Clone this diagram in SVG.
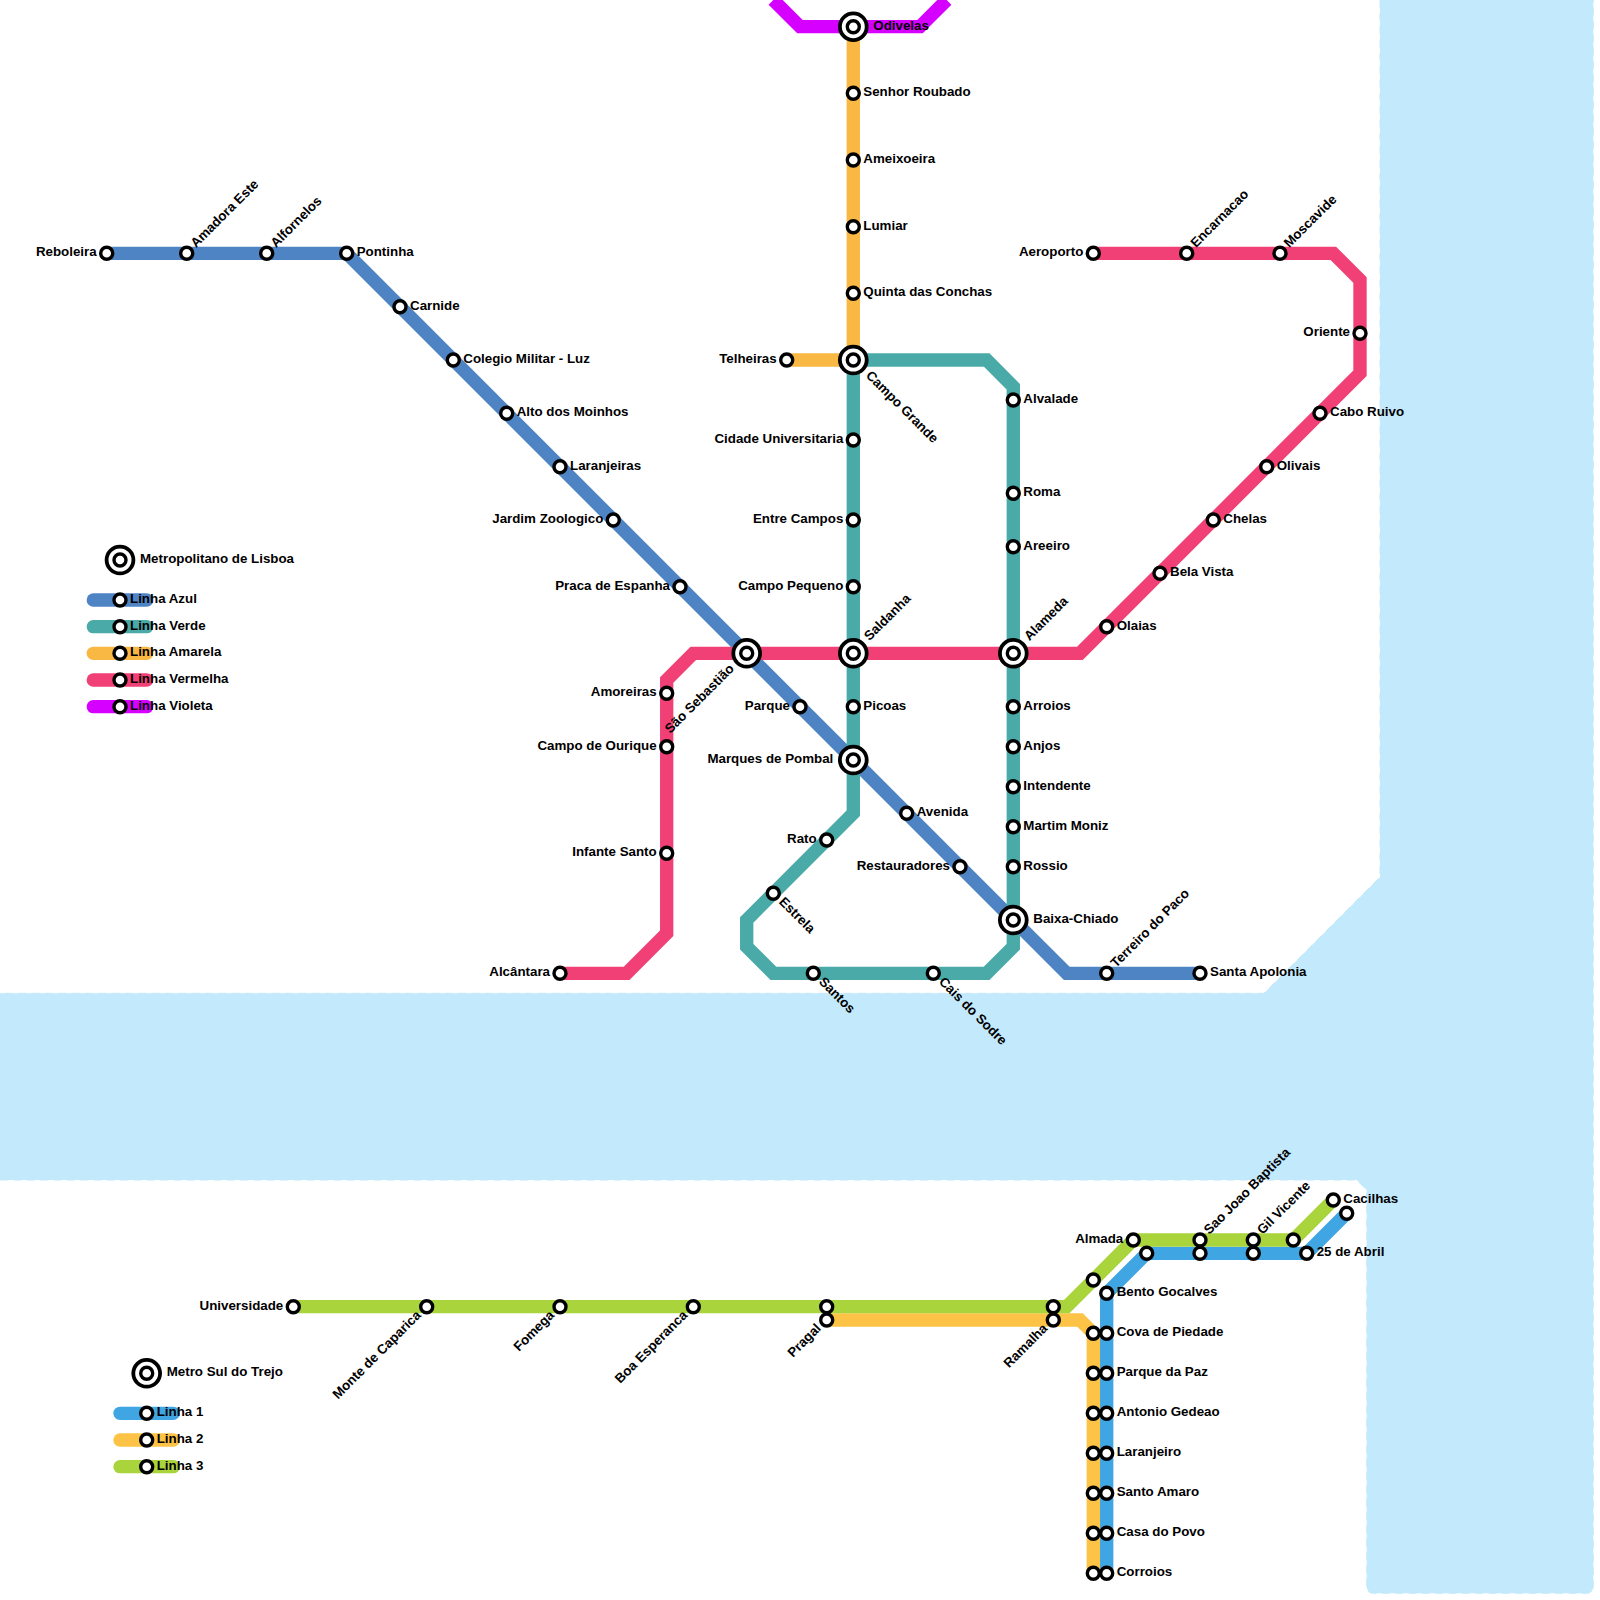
<svg xmlns="http://www.w3.org/2000/svg" width="1600" height="1600" viewBox="0 0 1600 1600">
<style>
text{font-family:"Liberation Sans",Arial,Helvetica,sans-serif;font-weight:700;font-size:13.33px;fill:#000}
.e{text-anchor:end}
.l{fill:none;stroke-width:13.33;stroke-linejoin:miter;stroke-linecap:butt}
.k{stroke-linecap:round}
.s{fill:#fff;stroke:#000;stroke-width:3.4}
.b{fill:#fff;stroke:#000;stroke-width:3.8}
.az{stroke:#4f84c4}.ve{stroke:#49aaa8}.am{stroke:#f8b843}.vm{stroke:#f04075}.vi{stroke:#d500ff}
.s1{stroke:#3fa5e3}.s2{stroke:#fcc346}.s3{stroke:#a9d43c}
#water{fill:#c3e9fc;stroke:#c3e9fc;stroke-width:1;stroke-dasharray:7 6.33;stroke-linecap:round}
</style>
<rect width="1600" height="1600" fill="#fff"/>
<path id="water" d="M1380 0V877L1264 993.3H0V1180H1356.7L1366.7 1190V1586.3Q1366.7 1593.3 1373.7 1593.3H1586.3Q1593.3 1593.3 1593.3 1586.3V0Z"/>
<g id="connectors">
<path class="l az" d="M106.7 253.3H346.7L1066.7 973.3H1200"/>
<path class="l ve" d="M853.3 360H986.7L1013.3 386.7V946.7L986.7 973.3H773.3L746.7 946.7V920L853.3 813.3V360"/>
<path class="l am" d="M853.3 26.7V360H786.7"/>
<path class="l vm" d="M560 973.3H626.7L666.7 933.3V680L693.3 653.3H1080L1360 373.3V280L1333.3 253.3H1093.3"/>
<path class="l vi" d="M773.3 0L800 26.7H920L946.7 0"/>
<path class="l s1" d="M1106.7 1573.3V1293.3L1146.7 1253.3H1306.7L1346.7 1213.3"/>
<path class="l s2" d="M826.7 1320H1080L1093.3 1333.3V1573.3"/>
<path class="l s3" d="M293.3 1306.7H1066.7L1133.3 1240H1293.3L1333.3 1200"/>
</g>
<g id="legend-lisboa">
<circle class="b" cx="120" cy="560" r="13.4"/><circle class="s" cx="120" cy="560" r="6"/>
<text x="140" y="563">Metropolitano de Lisboa</text>
<path class="l k az" d="M93.3 600H146.7"/><circle class="s" cx="120" cy="600" r="6"/><text x="130" y="603">Linha Azul</text>
<path class="l k ve" d="M93.3 626.7H146.7"/><circle class="s" cx="120" cy="626.7" r="6"/><text x="130" y="629.7">Linha Verde</text>
<path class="l k am" d="M93.3 653.3H146.7"/><circle class="s" cx="120" cy="653.3" r="6"/><text x="130" y="656.3">Linha Amarela</text>
<path class="l k vm" d="M93.3 680H146.7"/><circle class="s" cx="120" cy="680" r="6"/><text x="130" y="683">Linha Vermelha</text>
<path class="l k vi" d="M93.3 706.7H146.7"/><circle class="s" cx="120" cy="706.7" r="6"/><text x="130" y="709.7">Linha Violeta</text>
</g>
<g id="legend-sul">
<circle class="b" cx="146.7" cy="1373.3" r="13.4"/><circle class="s" cx="146.7" cy="1373.3" r="6"/>
<text x="166.7" y="1376.3">Metro Sul do Trejo</text>
<path class="l k s1" d="M120 1413.3H173.3"/><circle class="s" cx="146.7" cy="1413.3" r="6"/><text x="156.7" y="1416.3">Linha 1</text>
<path class="l k s2" d="M120 1440H173.3"/><circle class="s" cx="146.7" cy="1440" r="6"/><text x="156.7" y="1443">Linha 2</text>
<path class="l k s3" d="M120 1466.7H173.3"/><circle class="s" cx="146.7" cy="1466.7" r="6"/><text x="156.7" y="1469.7">Linha 3</text>
</g>
<g id="reboleira"><circle class="s" cx="106.7" cy="253.3" r="6"/><text class="e" x="96.7" y="256.3">Reboleira</text></g>
<g id="amadora-este"><circle class="s" cx="186.7" cy="253.3" r="6"/><text x="196.7" y="256.3" transform="rotate(-45 186.7 253.3)">Amadora Este</text></g>
<g id="alfornelos"><circle class="s" cx="266.7" cy="253.3" r="6"/><text x="276.7" y="256.3" transform="rotate(-45 266.7 253.3)">Alfornelos</text></g>
<g id="pontinha"><circle class="s" cx="346.7" cy="253.3" r="6"/><text x="356.7" y="256.3">Pontinha</text></g>
<g id="carnide"><circle class="s" cx="400" cy="306.7" r="6"/><text x="410" y="309.7">Carnide</text></g>
<g id="colegio-militar"><circle class="s" cx="453.3" cy="360" r="6"/><text x="463.3" y="363">Colegio Militar - Luz</text></g>
<g id="alto-dos-moinhos"><circle class="s" cx="506.7" cy="413.3" r="6"/><text x="516.7" y="416.3">Alto dos Moinhos</text></g>
<g id="laranjeiras"><circle class="s" cx="560" cy="466.7" r="6"/><text x="570" y="469.7">Laranjeiras</text></g>
<g id="jardim-zoologico"><circle class="s" cx="613.3" cy="520" r="6"/><text class="e" x="603.3" y="523">Jardim Zoologico</text></g>
<g id="praca-de-espanha"><circle class="s" cx="680" cy="586.7" r="6"/><text class="e" x="670" y="589.7">Praca de Espanha</text></g>
<g id="sao-sebastiao"><circle class="b" cx="746.7" cy="653.3" r="13.4"/><circle class="s" cx="746.7" cy="653.3" r="6"/><text class="e" x="726.7" y="656.3" transform="rotate(-45 746.7 653.3)">São Sebastião</text></g>
<g id="parque"><circle class="s" cx="800" cy="706.7" r="6"/><text class="e" x="790" y="709.7">Parque</text></g>
<g id="marques-de-pombal"><circle class="b" cx="853.3" cy="760" r="13.4"/><circle class="s" cx="853.3" cy="760" r="6"/><text class="e" x="833.3" y="763">Marques de Pombal</text></g>
<g id="avenida"><circle class="s" cx="906.7" cy="813.3" r="6"/><text x="916.7" y="816.3">Avenida</text></g>
<g id="restauradores"><circle class="s" cx="960" cy="866.7" r="6"/><text class="e" x="950" y="869.7">Restauradores</text></g>
<g id="baixa-chiado"><circle class="b" cx="1013.3" cy="920" r="13.4"/><circle class="s" cx="1013.3" cy="920" r="6"/><text x="1033.3" y="923">Baixa-Chiado</text></g>
<g id="terreiro-do-paco"><circle class="s" cx="1106.7" cy="973.3" r="6"/><text x="1116.7" y="976.3" transform="rotate(-45 1106.7 973.3)">Terreiro do Paco</text></g>
<g id="santa-apolonia"><circle class="s" cx="1200" cy="973.3" r="6"/><text x="1210" y="976.3">Santa Apolonia</text></g>
<g id="odivelas"><circle class="b" cx="853.3" cy="26.7" r="13.4"/><circle class="s" cx="853.3" cy="26.7" r="6"/><text x="873.3" y="29.7">Odivelas</text></g>
<g id="senhor-roubado"><circle class="s" cx="853.3" cy="93.3" r="6"/><text x="863.3" y="96.3">Senhor Roubado</text></g>
<g id="ameixoeira"><circle class="s" cx="853.3" cy="160" r="6"/><text x="863.3" y="163">Ameixoeira</text></g>
<g id="lumiar"><circle class="s" cx="853.3" cy="226.7" r="6"/><text x="863.3" y="229.7">Lumiar</text></g>
<g id="quinta-das-conchas"><circle class="s" cx="853.3" cy="293.3" r="6"/><text x="863.3" y="296.3">Quinta das Conchas</text></g>
<g id="telheiras"><circle class="s" cx="786.7" cy="360" r="6"/><text class="e" x="776.7" y="363">Telheiras</text></g>
<g id="campo-grande"><circle class="b" cx="853.3" cy="360" r="13.4"/><circle class="s" cx="853.3" cy="360" r="6"/><text x="873.3" y="363" transform="rotate(45 853.3 360)">Campo Grande</text></g>
<g id="cidade-universitaria"><circle class="s" cx="853.3" cy="440" r="6"/><text class="e" x="843.3" y="443">Cidade Universitaria</text></g>
<g id="entre-campos"><circle class="s" cx="853.3" cy="520" r="6"/><text class="e" x="843.3" y="523">Entre Campos</text></g>
<g id="campo-pequeno"><circle class="s" cx="853.3" cy="586.7" r="6"/><text class="e" x="843.3" y="589.7">Campo Pequeno</text></g>
<g id="saldanha"><circle class="b" cx="853.3" cy="653.3" r="13.4"/><circle class="s" cx="853.3" cy="653.3" r="6"/><text x="873.3" y="656.3" transform="rotate(-45 853.3 653.3)">Saldanha</text></g>
<g id="picoas"><circle class="s" cx="853.3" cy="706.7" r="6"/><text x="863.3" y="709.7">Picoas</text></g>
<g id="rato"><circle class="s" cx="826.7" cy="840" r="6"/><text class="e" x="816.7" y="843">Rato</text></g>
<g id="estrela"><circle class="s" cx="773.3" cy="893.3" r="6"/><text x="783.3" y="896.3" transform="rotate(45 773.3 893.3)">Estrela</text></g>
<g id="santos"><circle class="s" cx="813.3" cy="973.3" r="6"/><text x="823.3" y="976.3" transform="rotate(45 813.3 973.3)">Santos</text></g>
<g id="cais-do-sodre"><circle class="s" cx="933.3" cy="973.3" r="6"/><text x="943.3" y="976.3" transform="rotate(45 933.3 973.3)">Cais do Sodre</text></g>
<g id="alvalade"><circle class="s" cx="1013.3" cy="400" r="6"/><text x="1023.3" y="403">Alvalade</text></g>
<g id="roma"><circle class="s" cx="1013.3" cy="493.3" r="6"/><text x="1023.3" y="496.3">Roma</text></g>
<g id="areeiro"><circle class="s" cx="1013.3" cy="546.7" r="6"/><text x="1023.3" y="549.7">Areeiro</text></g>
<g id="alameda"><circle class="b" cx="1013.3" cy="653.3" r="13.4"/><circle class="s" cx="1013.3" cy="653.3" r="6"/><text x="1033.3" y="656.3" transform="rotate(-45 1013.3 653.3)">Alameda</text></g>
<g id="arroios"><circle class="s" cx="1013.3" cy="706.7" r="6"/><text x="1023.3" y="709.7">Arroios</text></g>
<g id="anjos"><circle class="s" cx="1013.3" cy="746.7" r="6"/><text x="1023.3" y="749.7">Anjos</text></g>
<g id="intendente"><circle class="s" cx="1013.3" cy="786.7" r="6"/><text x="1023.3" y="789.7">Intendente</text></g>
<g id="martim-moniz"><circle class="s" cx="1013.3" cy="826.7" r="6"/><text x="1023.3" y="829.7">Martim Moniz</text></g>
<g id="rossio"><circle class="s" cx="1013.3" cy="866.7" r="6"/><text x="1023.3" y="869.7">Rossio</text></g>
<g id="alcantara"><circle class="s" cx="560" cy="973.3" r="6"/><text class="e" x="550" y="976.3">Alcântara</text></g>
<g id="infante-santo"><circle class="s" cx="666.7" cy="853.3" r="6"/><text class="e" x="656.7" y="856.3">Infante Santo</text></g>
<g id="campo-de-ourique"><circle class="s" cx="666.7" cy="746.7" r="6"/><text class="e" x="656.7" y="749.7">Campo de Ourique</text></g>
<g id="amoreiras"><circle class="s" cx="666.7" cy="693.3" r="6"/><text class="e" x="656.7" y="696.3">Amoreiras</text></g>
<g id="olaias"><circle class="s" cx="1106.7" cy="626.7" r="6"/><text x="1116.7" y="629.7">Olaias</text></g>
<g id="bela-vista"><circle class="s" cx="1160" cy="573.3" r="6"/><text x="1170" y="576.3">Bela Vista</text></g>
<g id="chelas"><circle class="s" cx="1213.3" cy="520" r="6"/><text x="1223.3" y="523">Chelas</text></g>
<g id="olivais"><circle class="s" cx="1266.7" cy="466.7" r="6"/><text x="1276.7" y="469.7">Olivais</text></g>
<g id="cabo-ruivo"><circle class="s" cx="1320" cy="413.3" r="6"/><text x="1330" y="416.3">Cabo Ruivo</text></g>
<g id="oriente"><circle class="s" cx="1360" cy="333.3" r="6"/><text class="e" x="1350" y="336.3">Oriente</text></g>
<g id="moscavide"><circle class="s" cx="1280" cy="253.3" r="6"/><text x="1290" y="256.3" transform="rotate(-45 1280 253.3)">Moscavide</text></g>
<g id="encarnacao"><circle class="s" cx="1186.7" cy="253.3" r="6"/><text x="1196.7" y="256.3" transform="rotate(-45 1186.7 253.3)">Encarnacao</text></g>
<g id="aeroporto"><circle class="s" cx="1093.3" cy="253.3" r="6"/><text class="e" x="1083.3" y="256.3">Aeroporto</text></g>
<g id="universidade"><circle class="s" cx="293.3" cy="1306.7" r="6"/><text class="e" x="283.3" y="1309.7">Universidade</text></g>
<g id="monte-de-caparica"><circle class="s" cx="426.7" cy="1306.7" r="6"/><text class="e" x="416.7" y="1309.7" transform="rotate(-45 426.7 1306.7)">Monte de Caparica</text></g>
<g id="fomega"><circle class="s" cx="560" cy="1306.7" r="6"/><text class="e" x="550" y="1309.7" transform="rotate(-45 560 1306.7)">Fomega</text></g>
<g id="boa-esperanca"><circle class="s" cx="693.3" cy="1306.7" r="6"/><text class="e" x="683.3" y="1309.7" transform="rotate(-45 693.3 1306.7)">Boa Esperanca</text></g>
<g id="pragal-3"><circle class="s" cx="826.7" cy="1306.7" r="6"/></g>
<g id="pragal-2"><circle class="s" cx="826.7" cy="1320" r="6"/><text class="e" x="816.7" y="1323" transform="rotate(-45 826.7 1320)">Pragal</text></g>
<g id="ramalha-3"><circle class="s" cx="1053.3" cy="1306.7" r="6"/></g>
<g id="ramalha-2"><circle class="s" cx="1053.3" cy="1320" r="6"/><text class="e" x="1043.3" y="1323" transform="rotate(-45 1053.3 1320)">Ramalha</text></g>
<g id="s3-a"><circle class="s" cx="1093.3" cy="1280" r="6"/></g>
<g id="almada"><circle class="s" cx="1133.3" cy="1240" r="6"/><text class="e" x="1123.3" y="1243">Almada</text></g>
<g id="s1-a"><circle class="s" cx="1146.7" cy="1253.3" r="6"/></g>
<g id="sao-joao-baptista"><circle class="s" cx="1200" cy="1240" r="6"/><circle class="s" cx="1200" cy="1253.3" r="6"/><text x="1210" y="1243" transform="rotate(-45 1200 1240)">Sao Joao Baptista</text></g>
<g id="gil-vicente"><circle class="s" cx="1253.3" cy="1240" r="6"/><circle class="s" cx="1253.3" cy="1253.3" r="6"/><text x="1263.3" y="1243" transform="rotate(-45 1253.3 1240)">Gil Vicente</text></g>
<g id="s3-b"><circle class="s" cx="1293.3" cy="1240" r="6"/></g>
<g id="vinte-cinco-de-abril"><circle class="s" cx="1306.7" cy="1253.3" r="6"/><text x="1316.7" y="1256.3">25 de Abril</text></g>
<g id="cacilhas"><circle class="s" cx="1333.3" cy="1200" r="6"/><text x="1343.3" y="1203">Cacilhas</text></g>
<g id="s1-b"><circle class="s" cx="1346.7" cy="1213.3" r="6"/></g>
<g id="bento-gocalves"><circle class="s" cx="1106.7" cy="1293.3" r="6"/><text x="1116.7" y="1296.3">Bento Gocalves</text></g>
<g id="cova-de-piedade"><circle class="s" cx="1093.3" cy="1333.3" r="6"/><circle class="s" cx="1106.7" cy="1333.3" r="6"/><text x="1116.7" y="1336.3">Cova de Piedade</text></g>
<g id="parque-da-paz"><circle class="s" cx="1093.3" cy="1373.3" r="6"/><circle class="s" cx="1106.7" cy="1373.3" r="6"/><text x="1116.7" y="1376.3">Parque da Paz</text></g>
<g id="antonio-gedeao"><circle class="s" cx="1093.3" cy="1413.3" r="6"/><circle class="s" cx="1106.7" cy="1413.3" r="6"/><text x="1116.7" y="1416.3">Antonio Gedeao</text></g>
<g id="laranjeiro"><circle class="s" cx="1093.3" cy="1453.3" r="6"/><circle class="s" cx="1106.7" cy="1453.3" r="6"/><text x="1116.7" y="1456.3">Laranjeiro</text></g>
<g id="santo-amaro"><circle class="s" cx="1093.3" cy="1493.3" r="6"/><circle class="s" cx="1106.7" cy="1493.3" r="6"/><text x="1116.7" y="1496.3">Santo Amaro</text></g>
<g id="casa-do-povo"><circle class="s" cx="1093.3" cy="1533.3" r="6"/><circle class="s" cx="1106.7" cy="1533.3" r="6"/><text x="1116.7" y="1536.3">Casa do Povo</text></g>
<g id="corroios"><circle class="s" cx="1093.3" cy="1573.3" r="6"/><circle class="s" cx="1106.7" cy="1573.3" r="6"/><text x="1116.7" y="1576.3">Corroios</text></g>
</svg>
